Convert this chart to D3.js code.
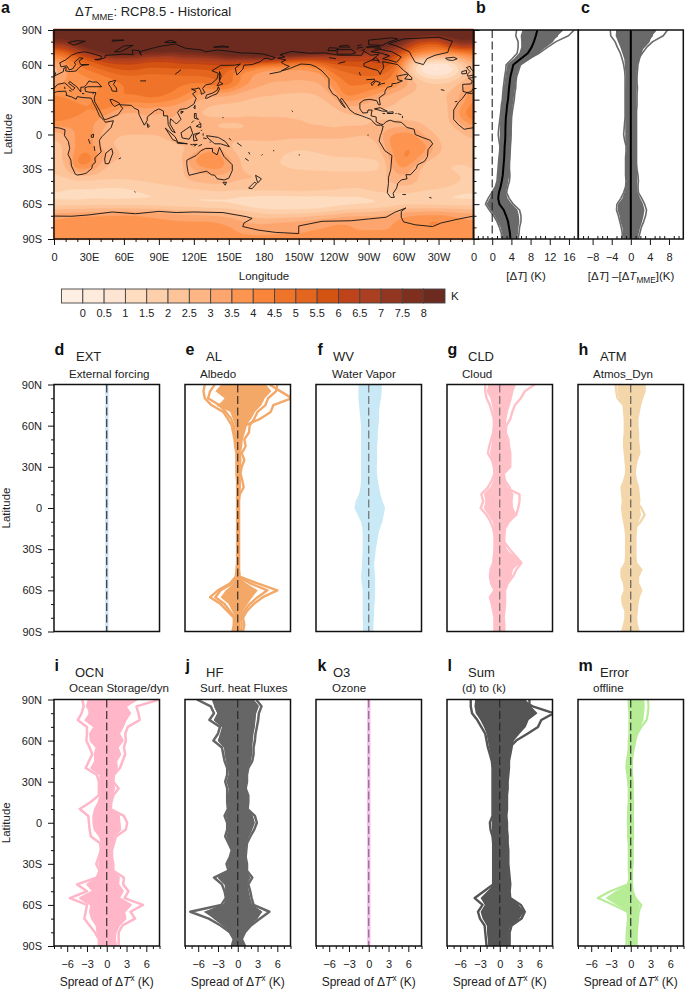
<!DOCTYPE html>
<html><head><meta charset="utf-8">
<script src="https://cdn.jsdelivr.net/npm/d3@7"></script>
<style>
html,body{margin:0;padding:0;background:#fff}
svg{display:block;font-family:"Liberation Sans",Arial,sans-serif;fill:#222}
text{fill:#222}
.tick line{stroke:#111;stroke-width:1}
.tick text{font-size:11px;fill:#222}
.domain{display:none}
</style></head><body>
<script>
// ---------- colour levels ----------
const levels=[0,.5,1,1.5,2,2.5,3,3.5,4,4.5,5,5.5,6,6.5,7,7.5,8];
const levelLabels=["0","0.5","1","1.5","2","2.5","3","3.5","4","4.5","5","5.5","6","6.5","7","7.5","8"];
const levelColors=["#ffefe3","#feebdc","#fee5d3","#fedcbf","#fdd0ab","#fdc49a","#fdb585","#fda56e","#fd9550","#f9853a","#ef742a","#e4651d","#d45212","#bf4318","#aa3f22","#92361f","#7f2f1e","#6d2b1f"];
// ---------- map: ΔT on a 10° lon x 5° lat grid, lon 0..350, lat 90..-90 ----------
const mapRows=[
[9.5,9.5,9.5,9.5,9.5,9.5,9.5,9.5,9.5,9.5,9.5,9.5,9.5,9.5,9.5,9.5,9.5,9.5,9.5,9.5,9.5,9.5,9.5,9.5,9.5,9.5,9.5,9.5,9.5,9.5,9.5,9.5,9.5,9.5,9.5,9.5],
[8.5,8.5,9,9.5,9.5,9.5,9.5,9.5,9.5,9.5,9.5,9.5,9.5,9.5,9.5,9.5,9.5,9.5,9.5,9.5,9.5,9.5,9.5,9.5,9.5,9.5,9.5,9.5,9.5,9.5,9,8.5,8,8,8.5,8.5],
[7.8,7.5,8.5,9,9.5,9.5,9.5,9.5,9.5,9.5,9.5,9.5,9.5,9.5,9.5,9.5,9.5,9.5,9.5,9.5,9.5,9.5,9.5,9.5,9.5,9.5,9.5,9.5,9.5,9,8,6,5.5,5.5,7,8],
[6,6.5,7.5,8.5,9,9.5,9.5,9.5,9,9,9,9,9,9.5,9.5,9.5,9.5,9.5,9.5,9.5,9.5,9.5,9.5,9.5,9.5,9.5,9,8.5,8,7.5,6.5,5.5,5,5,6,6.5],
[4.5,5,6,7,8,8.5,8.5,8.5,8,8,7.5,8,8,8,8.5,9,9,9,9,9,9,9,8.5,8,7.5,7,7,6.5,7,6.5,5.5,4.5,4,3.8,3.5,3.8],
[3.5,4.2,5,5.5,6,6.5,6.5,6.5,6,6,6,6.5,6.5,6.5,6.5,7,7,7.5,7.5,7.5,6.5,6,6,6,6.3,6.3,6.3,6,6.5,6,4,2.5,2,1.8,2,2.8],
[2.8,3.8,4.5,5,5.5,5.8,5.8,5.8,5.7,5.7,5.8,5.8,5.8,6,6,6,5.5,5,4.2,4,4,3.8,4,4.8,5.3,5.5,5.5,5.8,6,5.5,3.5,1.2,.5,.3,.7,1.8],
[2.6,3.3,4,4.4,4.8,5.3,5.6,5.6,5.3,5.3,5.3,5.3,5.3,5.3,5.5,4.5,4,3.6,3.3,3.3,3.3,3.3,3.4,3.6,4.8,5,5.2,5.3,5.3,4.8,3.2,1.3,.3,.1,.5,1.6],
[2.8,3.5,3.8,4,4.3,4.5,4.8,4.8,4.7,4.7,4.8,5,5,5,5.2,4.8,3.8,3.4,3.1,3.1,3.1,3,3.1,3.3,4.3,4.8,5,5,5,4.5,3.2,1.8,1.1,1.1,1.3,2],
[3.3,3.6,3.8,3.8,4,4.4,4.5,4.5,4.5,4.8,4.6,4.5,4.5,4.6,5,5,4.2,3.5,3.1,3,3,3,3,3,3.8,4.5,4.6,4.6,4.5,4.3,3.5,2.7,2.2,2,2.1,2.6],
[3.7,3.5,3.5,3.6,4,4.2,4.5,4.7,4.8,4.8,4.7,4.5,4.2,4,4.5,4.3,3.4,3,2.9,2.8,2.8,2.7,2.7,2.9,3.5,4.5,4.4,4.2,4,3.6,3,2.5,2.2,2.2,2.3,2.9],
[4,3.7,3.5,3.5,4.3,4.5,4.5,4.6,4.8,4.6,4.5,4.2,3.7,3.2,3.1,3,2.8,2.6,2.6,2.5,2.4,2.4,2.4,2.6,3.2,4.3,4.2,3.8,3.3,2.8,2.5,2.4,2.4,2.5,2.6,3.2],
[4.2,4.2,3.8,3.8,4.4,4.5,4.6,4.2,4.4,4.6,4.2,3.8,3.3,2.8,2.7,2.6,2.5,2.4,2.3,2.3,2.3,2.3,2.3,2.4,2.7,3.7,3.5,3.2,2.8,2.6,2.4,2.3,2.3,2.4,2.5,3],
[4.2,4.3,4.2,4,4.4,4.2,3.6,3.7,3.8,3.4,3.4,3.2,2.8,2.5,2.4,2.4,2.4,2.4,2.4,2.4,2.3,2.2,2.2,2.3,2.5,3,3,2.7,2.6,2.5,2.4,2.3,2.2,2.3,2.5,3.5],
[4.4,4.3,4.1,4,4,3.5,3,3,3.2,3.1,3.3,2.9,2.5,2.4,2.3,2.3,2.3,2.3,2.3,2.3,2.3,2.2,2.2,2.3,2.3,2.5,2.6,2.5,2.4,2.4,2.3,2.2,2.2,2.2,2.5,4],
[4.4,4.2,4,3.8,3.5,3,2.7,2.7,3,2.7,3.1,2.7,2.6,2.5,2.6,2.6,2.6,2.6,2.5,2.5,2.5,2.4,2.3,2.3,2.3,2.3,2.4,2.4,2.4,2.3,2.3,2.3,2.3,2.3,2.4,3.8],
[4.1,3.8,3.7,3.6,3.3,2.8,2.6,2.6,2.7,2.6,2.9,2.6,2.7,2.6,2.5,2.5,2.5,2.6,2.7,2.7,2.7,2.7,2.6,2.6,2.5,2.5,2.5,2.5,2.6,2.6,2.6,2.5,2.3,2.3,2.5,3],
[3,3.3,3.6,3.8,3,2.7,2.6,2.6,2.6,2.6,2.8,2.8,2.8,2.6,2.4,2.4,2.4,2.4,2.4,2.4,2.4,2.4,2.4,2.4,2.4,2.5,2.5,2.5,2.7,3,3.2,3,2.5,2.3,2.3,2.6],
[2.9,3,3.6,3.8,3,2.6,2.5,2.5,2.5,2.5,2.8,3,2.9,2.7,2.7,2.7,2.7,2.7,2.8,2.8,2.8,2.8,2.8,2.8,2.8,2.7,2.6,2.6,3,3.6,3.8,3.6,2.6,2.4,2.3,2.4],
[2.3,2.8,3.8,3.8,2.8,2.5,2.4,2.4,2.4,2.4,2.4,2.7,2.7,2.6,2.8,2.5,2.5,2.5,2.5,2.5,2.4,2.4,2.4,2.4,2.4,2.4,2.4,2.3,2.6,3.9,4,3.8,3.3,2.4,2.3,2.2],
[2.2,2.5,3.7,3.8,2.9,2.4,2.3,2.4,2.4,2.4,2.4,2.4,2.4,2.6,2.7,2.5,2.3,2.3,2.3,2.3,2.2,2.1,2.1,2.1,2.2,2.2,2.3,2.3,2.4,3.7,4,4,3.6,2.6,2.3,2.2],
[2.2,2.6,3.9,4,3.2,2.8,2.3,2.4,2.4,2.4,2.4,2.4,2.8,3.7,3.6,2.6,2.3,2.3,2.2,2.1,2,1.9,2,2.1,2.2,2.2,2.3,2.3,2.4,3.5,4,4,3.6,2.5,2.3,2.2],
[2.2,2.6,4.1,4.4,3.4,2.9,2.4,2.4,2.4,2.4,2.4,2.4,3.5,4,4,3,2.4,2.3,2.2,2.1,1.9,1.8,1.8,1.9,2,2,2,2.1,2.1,3.3,4.3,3.9,2.6,2.3,2.3,2.2],
[2.1,2.5,4.3,4.3,2.8,2.3,2.1,2.2,2.3,2.3,2.3,2.3,3.6,4,4.1,3.4,2.4,2.2,2.1,2,1.9,1.8,1.7,1.6,1.6,1.7,1.6,1.7,1.8,3.2,4,3.2,2.2,2,2,2],
[2,2.3,3.8,3.5,2.6,2.2,2.1,2.2,2.3,2.3,2.2,2.3,3,3.4,3.6,3.2,2.5,2.3,2.2,2.1,2,1.9,1.9,1.9,1.8,1.8,1.8,1.8,1.9,2.9,3.6,2.6,2.2,2.2,1.9,1.8],
[2,2.1,2.4,2.4,2.3,2.3,2.3,2.3,2.5,2.5,2.4,2.5,2.7,2.7,2.9,2.8,2.6,2.6,2.5,2.4,2.3,2.3,2.3,2.3,2.3,2.3,2.3,2.3,2.3,2.8,3,2.5,2.3,2.4,2.2,2],
[1.8,1.8,1.9,1.9,1.9,1.9,1.9,2,2,2.2,2.3,2.4,2.6,2.7,2.7,2.6,2.5,2.5,2.5,2.5,2.5,2.4,2.4,2.3,2.3,2.3,2.3,2.4,2.3,2.5,2.8,2.6,2.4,2.4,2.3,2],
[1.7,1.6,1.6,1.6,1.5,1.5,1.5,1.6,1.7,1.8,1.9,2,2.2,2.3,2.4,2.3,2.2,2.3,2.3,2.3,2.3,2.3,2.3,2.3,2.2,2.1,2.1,2.2,2.4,2.4,2.5,2.4,2.3,2.2,2,1.8],
[1.5,1.4,1.3,1.3,1.3,1.2,1.3,1.4,1.5,1.6,1.6,1.7,1.7,1.8,1.9,1.9,1.8,1.9,1.9,1.9,2,2,2,1.9,1.9,1.8,1.7,1.9,2,2.1,2.1,2,1.8,1.7,1.6,1.5],
[1.3,1.3,1.3,1.4,1.4,1.4,1.4,1.4,1.4,1.4,1.4,1.4,1.4,1.4,1.4,1.4,1.3,1.2,1.1,1.1,1.1,1.1,1.1,1.1,1.2,1.3,1.3,1.4,1.5,1.5,1.5,1.5,1.4,1.4,1.3,1.3],
[1.7,1.7,1.7,1.7,1.8,1.7,1.7,1.7,1.6,1.6,1.5,1.5,1.4,1.3,1.3,1.3,1.2,1,.9,.9,.9,.9,1,1,1.2,1.2,1.3,1.2,1.3,1.6,1.8,1.8,1.8,1.7,1.7,1.7],
[2.5,2.6,2.6,2.7,2.7,2.7,2.7,2.7,2.7,2.7,2.6,2.5,2.5,2.4,2.3,2.2,2,1.8,1.6,1.5,1.5,1.5,1.5,1.6,1.7,1.9,2,2.2,2.3,2.5,2.6,2.6,2.7,2.7,2.7,2.6],
[3.4,3.5,3.6,3.6,3.6,3.7,3.8,3.7,3.5,3.4,3.3,3.2,3.1,3,3,2.9,2.6,2.3,2.2,2.1,2.2,2.2,2.3,2.5,2.8,3.1,3.2,3.1,3.1,3.3,3.6,3.7,3.8,3.8,3.6,3.5],
[3.5,3.7,3.8,3.8,3.9,3.9,3.9,3.9,3.8,3.7,3.6,3.6,3.6,3.7,3.6,3.4,3.1,2.9,2.9,3,3.1,3.2,3.4,3.5,3.5,3.5,3.4,3.4,3.4,3.5,3.7,4,4.1,4.2,3.9,3.6],
[3.8,3.9,4,4.1,4.1,4.1,4,4,3.9,3.8,3.8,3.7,3.7,3.7,3.6,3.6,3.4,3.2,3.2,3.3,3.4,3.4,3.5,3.5,3.6,3.6,3.5,3.5,3.5,3.5,3.6,3.9,4,4,3.9,3.8],
[3.7,3.7,3.7,3.7,3.7,3.7,3.7,3.7,3.7,3.7,3.7,3.7,3.7,3.7,3.6,3.6,3.5,3.5,3.5,3.5,3.5,3.5,3.5,3.5,3.5,3.5,3.5,3.5,3.5,3.5,3.6,3.7,3.7,3.7,3.7,3.7],
[3.6,3.6,3.6,3.6,3.6,3.6,3.6,3.6,3.6,3.6,3.6,3.6,3.6,3.6,3.6,3.6,3.6,3.6,3.6,3.6,3.6,3.6,3.6,3.6,3.6,3.6,3.6,3.6,3.6,3.6,3.6,3.6,3.6,3.6,3.6,3.6]];
// ---------- coastlines, [lon,lat] ----------
const coastContinents=[
[[-6,35.8],[-2,35.1],[3,36.9],[10,37.2],[11,34],[10.2,33.7],[15,32.3],[19,30.3],[20,32.5],[25,31.7],[32,31.2],[32.5,29.9],[34,26.5],[36,23],[37.3,20],[39,16],[43,12],[44,10.5],[51,11.8],[49,6],[45,2],[41,-2],[39,-5],[39.5,-10],[40.5,-15],[35,-20],[35.5,-24],[33,-26],[32.5,-29],[28,-33],[25,-34],[20,-34.8],[18.3,-34],[15,-27],[14.5,-22],[12,-17],[13.5,-12],[12.3,-6],[9,-1],[9.5,4],[5,5.5],[1,6],[-4,5.2],[-8,4.5],[-13,8.5],[-17,13],[-17,21],[-13,27.5],[-9.5,31],[-6,35.8]],
[[-5.5,36],[-9,37],[-9.3,43],[-2,43.4],[-1,46],[-4.5,48.4],[-1.5,48.7],[2,51],[4,52],[8,54],[8.5,57],[10.5,57.5],[10,54.5],[14,54],[19,54.5],[21,57],[24,59.3],[30,60],[23,60],[21.5,63],[25,65.5],[22,65.8],[17.5,62],[18.5,60],[16,56.3],[13,55.5],[11,59],[6,58],[5,61.5],[10,64],[15,68],[20,70],[26,71],[31,70],[41,67],[40,64.8],[35,64.3],[38,64],[44,66],[44,68],[54,68.5],[60,69],[68,68.5],[67,72.5],[73,72],[75,68],[73,71],[80,72.8],[90,75.5],[104,77.7],[113,74],[127,72.5],[130,71],[140,72.5],[150,71.5],[160,70],[170,69.8],[180,69],[-175,67.5],[-170,66],[-173,64.3],[-178,65.5],[180,65],[177,62.5],[170,60],[163,59.5],[162,56],[157,51],[155.5,57],[160,60.5],[155,59.5],[143,59.3],[135.5,54.7],[141,52.5],[140,48],[135,43.5],[130,42.5],[127.5,39.5],[129.5,36],[126.5,34.5],[126,37.5],[124.5,40],[121,39],[118,39],[122,37],[119,35],[122,31],[120,26],[114,22.3],[108,21.5],[106,19],[109,13],[105,9],[103,11],[100,13.5],[99.5,9],[104,1.5],[101,3],[98,8.5],[97.5,16],[94,16],[94,20],[90,22],[86,20],[80,15],[80,12],[77.5,8],[73,17],[72.5,21],[69,22.5],[66.5,25],[57,25.5],[56,27],[50,30],[48,30],[50,26],[52,24],[56,26],[59,22.5],[55,17],[45,13],[43,13],[39,21],[35,28],[34.5,31.5],[36,36],[30,36.3],[27,37],[26.5,40],[29,41],[41,41],[37,45],[33,45],[30,46],[28,43],[26,40.8],[23,40.5],[23,36.5],[19.5,41],[13.5,45.5],[12.5,44],[18,40],[16,38],[12,42],[9,44.3],[3,43],[0,39.5],[-2,36.7],[-5.5,36]],
[[-168,65.5],[-162,66.5],[-166,68.5],[-156,71.3],[-141,69.7],[-128,70],[-115,68],[-108,68],[-96,68],[-94,71.5],[-88,68],[-81,69],[-87,64],[-94,61],[-94,58.7],[-88,56.5],[-82,55],[-80,51.5],[-79,54.5],[-77,57],[-78,62.5],[-70,61],[-65,60],[-60,55],[-56,52],[-66,50],[-65,49],[-65,47],[-61,46],[-66,44],[-70,43.5],[-70,41.5],[-74,40.5],[-76,37],[-76,35],[-81,31.5],[-80,25.5],[-81.5,25.5],[-83,29],[-89,30.2],[-94,29.5],[-97.5,27],[-97.5,22],[-95,18.5],[-91,18.7],[-90.5,21],[-87,21],[-88,16],[-83.5,15],[-83.5,11],[-80,9],[-77.5,8.5],[-75,11],[-71.5,12.3],[-68,11],[-62,10.5],[-57,6],[-51,4.5],[-50,0],[-44,-2.5],[-37,-5],[-35,-8],[-39,-13],[-39.5,-19],[-42,-23],[-48,-26],[-49,-29],[-54,-34.5],[-58,-34.5],[-57,-38],[-62,-39],[-65,-42],[-66,-46],[-69,-50.5],[-68,-54],[-71,-54],[-74,-50],[-73,-42],[-73,-37],[-71,-30],[-70,-18],[-76,-14],[-81,-5.5],[-80,-1],[-79,1.5],[-77.5,7],[-80,8],[-83,8],[-85.5,10],[-88,13],[-92,14.5],[-96,16],[-102,18],[-106,21],[-109,25.5],[-113,31],[-114.5,30],[-110,23],[-112.5,25],[-115,29],[-117,32.5],[-121,35],[-124,40],[-124,48],[-130,54.5],[-135,58],[-140,60],[-148,60.5],[-152,59],[-158,56.5],[-165,54.5],[-158,58.5],[-162,60],[-165,62],[-161,64],[-168,65.5]],
[[114,-22],[122,-18],[126,-14],[130,-12],[136,-12],[136,-15],[140,-17.5],[142,-11],[146,-19],[153,-26],[153,-31],[150,-37.5],[146,-39],[140,-38],[138,-35],[135,-34.5],[131,-31.5],[124,-33],[116,-35],[115,-32],[114,-26],[114,-22]],
[[0,-70],[30,-69],[50,-66.5],[70,-68],[90,-66],[120,-66.5],[145,-67],[165,-70.5],[170,-72],[163,-76],[162,-79],[175,-82],[-170,-84],[-150,-85],[-150,-78.5],[-130,-74.5],[-105,-74],[-90,-72.5],[-75,-71],[-68,-67],[-58,-63],[-62,-66],[-62,-71],[-60,-75],[-50,-77.5],[-35,-79],[-28,-76],[-15,-73],[-5,-71],[0,-70]],
[[-73,78],[-60,82],[-30,83.5],[-18,80],[-21,74],[-22,70.5],[-33,68],[-40,65],[-43,60],[-50,62],[-53,67],[-55,71],[-66,76],[-73,78]]];
const coastIslands=[
[[-80,73],[-70,71],[-62,66.5],[-66,62],[-73,64],[-78,65],[-72,67.5],[-80,70],[-88,71],[-80,73]],
[[-117,69],[-105,69],[-101,70],[-105,73],[-117,73],[-117,69]],[[-90,77],[-78,76.5],[-65,82],[-70,83],[-90,81],[-90,77]],
[[-125,72],[-118,72],[-116,74],[-124,74.5],[-125,72]],[[-92,75],[-80,75],[-82,76],[-92,75]],[[-115,75],[-106,75],[-108,76.5],[-115,76],[-115,75]],
[[-87,64],[-81,63.5],[-84,66],[-87,64]],[[-59,47.7],[-53,47],[-53,49],[-56,51.5],[-59,47.7]],[[-24,65.5],[-22,64],[-18,63.5],[-14,65],[-17,66.3],[-24,65.5]],
[[-5,50],[1,51.2],[1.5,52.8],[-2,56],[-3,58.5],[-6,57.5],[-3,54],[-5,52],[-5,50]],[[-10,52],[-6,52.3],[-6,55],[-10,54],[-10,52]],
[[12,79],[20,80.5],[27,80],[17,76.7],[12,79]],[[52,71],[57,71],[68,76.5],[60,76],[52,71]],[[95,79],[105,79],[100,81],[95,79]],[[137,75],[150,75],[145,76],[137,75]],[[50,80],[60,81],[50,81],[50,80]],
[[49.5,-12],[50.5,-16],[47,-25],[44,-25],[43.5,-21],[44.5,-16],[49.5,-12]],[[80,9.5],[82,7],[80.5,6],[80,9.5]],
[[95.5,5.5],[104,-2],[106,-6],[102,-4.5],[95.5,5.5]],[[105.5,-6.5],[114.5,-8],[106,-7.5],[105.5,-6.5]],[[109,1.5],[117,7],[119,1],[116,-4],[110,-3],[109,1.5]],
[[120,-5.5],[119.5,0],[125,1.5],[121,-1],[123,-5],[120,-5.5]],[[131,-1],[141,-2.5],[147,-6],[150.5,-10.5],[143,-8],[138,-8],[132,-3],[131,-1]],
[[120.5,18],[122,18],[122,15],[124,13],[120.5,14],[120.5,18]],[[122,7],[126,9.5],[126,6],[122,7]],[[121,25],[121,22],[120,23],[121,25]],[[109,20],[111,19.5],[109,18],[109,20]],
[[130,31],[131,34],[136,35.5],[140,38],[141,41],[142,39],[140,35],[136,33.5],[131,31],[130,31]],[[140,42],[142,45.5],[145,43.5],[141,42],[140,42]],[[142,46],[142,54],[143.5,50],[142,46]],
[[-85,22],[-80,23],[-74,20],[-78,20],[-85,22]],[[-74,19],[-69,19.5],[-69,18],[-74,18],[-74,19]],[[145,-41],[148,-41],[147,-43.5],[145,-41]],
[[173,-35],[178,-38],[175,-41.5],[174,-39],[173,-35]],[[172,-41],[174,-42],[170,-46.5],[167,-46],[172,-41]],
[[47,45],[53,46.5],[51,43],[53.5,40],[54,37],[50,37.3],[49,40],[47,43],[47,45]],[[32,-.5],[34,.3],[33.8,-2.5],[32,-2.3],[32,-.5]],
[[-92,47],[-85,47.5],[-85,46],[-88,44],[-87,42],[-84,46],[-80,44.5],[-82,42],[-79,43.5],[-76,44]]];
const coastSmall=[[[-156,20.5],[-155,19.5]],[[164,-20.5],[167,-22.5]],[[178,-18],[179,-17]],[[157,-7],[161,-10]],[[167,-15],[168,-17]],[[-61,-51.5],[-58,-51.5]],[[-38,-54],[-36,-54.5]],[[69,-49],[70,-49.5]],[[-175,52],[-165,54]],[[-91,-.5],[-90,-.5]],[[124,-10],[127,-8.5]],[[119,-8.5],[123,-8.5]],[[128,-3],[131,-3.5]],[[128,1],[128,-1]],[[104,51.7],[109,55.5]],[[74,46],[79,46]],[[29.5,-4],[31,-8]],[[34.5,-10],[35,-14]],[[-124,66],[-118,65]],[[-116,61],[-110,62.5]],[[-98,53.5],[-97,50.5]],[[9,41],[9.5,39]],[[13,38],[15,37]],[[24,35.2],[26,35]],[[33,35],[34,35.2]],[[-16,28],[-14,28.5]],[[-25,37.8],[-28,38.5]],[[-61,16],[-61,14]],[[-78,18],[-76,18]],[[-67,18],[-66,18]],[[55.5,-21],[57.5,-20]],[[-150,-17.5],[-149,-17.5]],[[-172,-13.8],[-171,-14]],[[145,14],[145,15]],[[-100,74],[-95,75]],[[-100,76],[-96,77]],[[-85,73.5],[-79,73.5]],[[-96,72],[-93,73]],[[-76,68],[-74,69]],[[-82,62.5],[-80,62]],[[117,-8.5],[119,-9]],[[122,-9],[120,-10]],[[134,-6],[134,-7]],[[150,-3],[152,-5]],[[126,3],[127,4]],[[118,10],[120,12]],[[125,11],[125,10]],[[-65,18],[-62,17]]];
// ---------- latitudes and zonal profiles ----------
const LAT=[90,85,80,75,70,65,60,55,50,45,40,35,30,25,20,15,10,5,0,-5,-10,-15,-20,-25,-30,-35,-40,-45,-50,-55,-60,-65,-70,-75,-80,-85,-90];
const mme=[9.4,9.1,8.7,8.2,7.4,5.9,4.4,4.1,3.8,3.65,3.5,3.4,3.3,3.1,3,2.85,2.8,2.75,2.75,2.7,2.6,2.55,2.5,2.4,2.3,2.2,2,1.75,1.4,1.25,1.5,2.4,2.9,3.3,3.5,3.7,3.8];
const devC=[
[-4.3,-4.2,-3.3,-2.8,-2.2,-1.8,-1.5,-1.3,-1.2,-1.2,-1.2,-1.2,-1.2,-1.2,-1.2,-1.2,-1.3,-1.4,-1.5,-1.3,-1,-1,-1.1,-1.1,-1.1,-1.1,-1,-1.1,-1.5,-2.1,-2.9,-3,-2.6,-2.3,-2,-1.8,-1.8],
[4,4.5,3.3,2.5,2.1,1.8,1.5,1.4,1.3,1.3,1.4,1.3,1.3,1.3,1.2,1.2,1.2,1.2,1.2,1.2,1.2,1.2,1.2,1.2,1.3,1.5,1.6,1.5,1.6,2.3,2.9,3.3,3.1,2.7,2.2,1.9,1.6],
[-2.9,-3,-2.5,-2,-1.6,-1.2,-1.1,-1,-.9,-.9,-1,-1,-1,-1,-1,-1,-1,-1,-1,-1,-.8,-.8,-.9,-.9,-.9,-.9,-.8,-.9,-1.2,-1.6,-2.5,-2.6,-2.2,-2,-1.6,-1.5,-1.4],
[2.8,3.2,2.6,2,1.7,1.4,1.2,1.1,1.1,1.1,1.1,1,1,1,1,1,1,1,1,1,1,1,1,1,1.1,1.2,1.2,1.2,1.3,1.8,2.4,2.7,2.5,2.2,1.8,1.5,1.3],
[-1.6,-2,-1.5,-1.2,-1,-.8,-.7,-.6,-.6,-.6,-.7,-.7,-.7,-.7,-.6,-.6,-.6,-.6,-.6,-.6,-.5,-.5,-.6,-.6,-.6,-.5,-.5,-.5,-.8,-1.1,-1.8,-1.9,-1.5,-1.4,-1.1,-1,-.9],
[7.7,6.8,4.6,3.3,2.4,1.6,1.2,1,.8,.7,.6,.6,.6,.5,.5,.5,.5,.5,.5,.5,.5,.5,.5,.5,.6,.7,.8,.7,.8,1,1.6,1.8,1.6,1.4,1.1,.9,.8],
[5.3,4.2,3.8,2.7,1.2,1,.9,.7,.7,.6,.7,.7,.6,.6,.6,.6,.6,.6,.6,.6,.6,.6,.6,.6,.7,.8,.9,.9,1,1.2,1.2,1.4,1.2,1.1,.9,.7,.7]];
const extLines=[[-.12,-.12,-.12,-.12,-.12,-.12,-.12,-.12,-.12,-.12,-.12,-.12,-.12,-.14,-.14,-.14,-.14,-.14,-.14,-.14,-.14,-.14,-.14,-.12,-.12,-.12,-.12,-.12,-.12,-.12,-.12,-.12,-.12,-.12,-.12,-.12,-.12],[.14,.14,.14,.14,.14,.14,.14,.14,.14,.14,.14,.14,.14,.14,.14,.14,.14,.14,.14,.14,.14,.14,.14,.14,.14,.14,.14,.14,.14,.14,.14,.14,.14,.14,.14,.14,.14]];
const alLines=[
[-5,-5.2,-5,-4,-2.2,-1.5,-.9,-.7,-.5,-.4,-.2,-.2,-.2,-.2,-.1,-.1,-.1,-.1,-.1,-.1,-.1,-.1,-.1,-.1,-.1,-.1,-.1,-.2,-.3,-1.2,-3,-4.2,-2.6,-1.6,-.6,-.6,-.8],
[6,5.8,4.6,4.2,3,2.5,1.8,1.7,1,1.2,.6,1,.6,.4,.7,.9,.3,.2,.2,.2,.2,.2,.2,.2,.2,.2,.2,.2,.3,3,6,3.8,2.4,1.4,.8,1,.8],
[-3.5,-4.2,-4.5,-2.8,-1.8,-1,-.6,-.5,-.3,-.3,-.1,-.1,-.1,-.1,0,0,0,0,0,0,0,0,0,0,0,0,0,-.1,-.2,-.8,-2.6,-3.4,-2,-1.2,-.4,-.4,-.5],
[3.8,4.4,3.6,3,2.2,1.6,1.2,.9,.6,.5,.3,.4,.3,.2,.3,.3,.2,.1,.1,.1,.1,.1,.1,.1,.1,.1,.1,.1,.2,1.9,4.5,3,1.8,1,.5,.6,.5],
[4.8,6.5,8.2,5.4,5,3.4,1,.7,.4,.2,.1,.1,.1,.1,.1,.1,.1,.1,.1,.1,.1,.1,.1,.1,.1,.1,.1,.1,.1,.8,1.6,1,.8,.4,.2,.2,.2],
[-1.5,-2.6,.5,-3,-.5,.5,-.2,.3,-.1,.1,0,.2,0,.1,0,0,0,0,0,0,0,0,0,0,0,0,0,0,0,-.4,1.2,-1.8,1.2,-.5,.2,.1,-.2],
[1.5,.5,2,1.2,.8,-.5,.5,-.2,.2,0,.1,0,.1,0,.1,.1,.1,.1,.05,.05,.05,.05,.05,.05,.05,.05,.05,.05,.05,.6,-1,1.4,-.8,.6,-.2,-.2,.2]];
const wvLines=[
[-1.4,-1.4,-1.4,-1.3,-1.2,-1.1,-1,-1,-1,-1,-1,-1,-1,-1,-1,-1.1,-1.3,-1.8,-2,-1.5,-1,-.8,-.75,-.75,-.75,-.8,-.85,-.9,-1,-.9,-.75,-.75,-.75,-.75,-.75,-.7,-.7],
[1.8,1.8,1.7,1.5,1.4,1.4,1.3,1.2,1.2,1.1,1.1,1.1,1.05,1.1,1.2,1.4,1.6,1.9,2.3,2.1,1.9,1.5,1.25,1.1,.9,.8,.65,.7,.8,.8,.8,.8,.7,.65,.6,.55,.55],
[-1.1,-1.2,-1.2,-1.1,-1,-.9,-.8,-.8,-.9,-.8,-.9,-.8,-.8,-.9,-.9,-.9,-1,-1.2,-1.5,-1.1,-.8,-.6,-.6,-.6,-.6,-.7,-.7,-.7,-.8,-.7,-.6,-.6,-.6,-.6,-.6,-.55,-.55],
[1.5,1.6,1.5,1.3,1.2,1.1,1.1,1,1,.9,.9,.9,.9,.9,1,1.2,1.3,1.6,1.9,1.8,1.6,1.2,1,.9,.8,.7,.5,.6,.7,.7,.7,.65,.6,.55,.5,.45,.45]];
const cldLines=[
[-2.2,-2.2,-2,-1.5,-1.2,-.9,-.9,-1,-1.3,-1.6,-1.8,-1.2,-.9,-.8,-1.2,-1.8,-2.8,-2.5,-2.9,-2,-1.4,-1,-.8,-.8,-.8,-.9,-1,-1.4,-1.5,-1.3,-.8,-1.5,-1.2,-1,-.8,-.8,-.8],
[1.5,1.5,1.4,1.3,1,.8,.8,.9,1.3,1.4,1.6,1.6,1.6,.6,.8,1.5,1.8,1.6,1.8,2.4,1.4,.8,.7,.7,1.5,2.4,3.3,2.5,2,1.2,.8,.8,.8,.7,.6,.7,.7],
[5.3,3.8,3.2,2.3,1.9,1.6,1,.9,.4,.3,.2,.4,.5,.3,.3,.8,3,3,2.8,2.5,.9,.3,.3,.3,.5,2,3,1.2,.6,.4,.2,.2,.2,.2,.2,.3,.3],
[-1.5,-1.8,-1.2,-1,-.8,-.7,-.6,-.8,-1,-1.1,-1.3,-.9,-.6,-.5,-.8,-1.2,-2.2,-2,-2.2,-1.5,-.9,-.7,-.6,-.6,-.6,-.7,-.8,-1.1,-1.2,-1,-.6,-1.2,-.9,-.7,-.6,-.6,-.6],
[1,1.2,1,.9,.7,.6,.6,.7,1,1.1,1.3,1.3,1.2,.4,.6,1,1.3,1.2,1.4,1.7,1,.6,.5,.5,.9,1.4,1.8,1.8,1.6,.9,.6,.6,.6,.5,.4,.5,.5],
[-.5,.4,-.7,.6,-.5,.3,-.3,.4,-.6,.6,-.8,.7,-.4,.2,-.6,.7,-1.4,.9,-1.6,1.2,-.5,.3,-.3,.3,-.4,.8,-.4,1,-.9,.5,-.3,-.7,.3,-.4,.2,-.3,.3]];
const atmLines=[
[-2.3,-2.2,-2,-1.1,-1,-.9,-.9,-.9,-1,-1,-.9,-.8,-.7,-.7,-1,-1.4,-1.3,-1.2,-1.3,-1.2,-1,-.8,-.7,-.7,-.7,-.7,-.8,-1.4,-1.4,-1,-.9,-1.3,-1.2,-.8,-.8,-1,-1.3],
[2.1,2.1,1.7,1.4,1.2,1,1,1.1,1.1,1.2,1.3,.9,.7,.6,.8,1.1,1.2,1.3,1.1,1,.9,.8,.7,.7,.7,.7,.8,1.6,1.1,1.1,1.6,1.2,1,.9,.8,.9,1.2],
[.8,1.2,.9,.6,.5,.5,.4,.4,.5,.6,.5,.4,.3,.3,.3,.5,.6,.8,1.6,2.1,1.5,.5,.3,.3,.3,.3,.3,.8,.6,.5,.8,.6,.5,.4,.3,.4,.5],
[-1.7,-1.8,-1.5,-.9,-.8,-.7,-.7,-.7,-.8,-.8,-.7,-.6,-.5,-.5,-.8,-1.1,-1,-1,-1,-.9,-.8,-.6,-.5,-.5,-.5,-.5,-.6,-1.1,-1.1,-.8,-.7,-1,-.9,-.6,-.6,-.8,-1],
[1.7,1.8,1.4,1.1,1,.8,.8,.9,.9,1,1,.7,.5,.4,.6,.9,1,1,.9,.8,.7,.6,.5,.5,.5,.5,.6,1.2,.9,.9,1.2,.9,.8,.7,.6,.7,.9]];
const ocnLines=[
[-3.7,-3.5,-3.8,-4.4,-3,-3,-3.1,-2.6,-2.2,-2.7,-3.2,-1.5,-1.2,-1.2,-1.2,-2.5,-4.1,-2.8,-2.7,-2.6,-2.4,-1,-.9,-1.2,-1.6,-1.1,-1.5,-4.5,-3,-5.6,-3,-3.2,-3.4,-2.6,-1.8,-1.2,-1.2],
[8,4.5,4.8,5,3.2,2.8,2.9,2.6,2.8,2.4,2,1.1,1,1.8,1,.7,.6,2.6,3.1,2.9,1.4,1.1,.8,.8,1,1,2.6,2.5,3.3,2.7,5.5,3.6,4.3,2.4,1.8,1.8,1.8],
[-2.7,-3,-2.2,-3.2,-1.8,-2.5,-2.4,-1.5,-1.8,-1.7,-2.3,-.9,-1,-.9,-.9,-1.2,-1.7,-2,-2,-1.8,-1,-.7,-.6,-.9,-1.1,-.8,-1.2,-2.9,-2,-4,-2.3,-2.5,-2.2,-1.5,-1.4,-.9,-.9],
[4.5,2.8,3.5,2.8,2.4,1.8,2.4,1.6,2,1.4,1.5,.8,.8,1.1,.7,.5,.5,1.8,1.9,2,1,.8,.6,.6,.7,.7,1.8,1.7,2.4,1.8,3.6,2.6,2.8,1.8,1.3,1.2,1.4],
[-1.5,1.5,-2.6,1.6,-1,1.2,-1.8,.9,-1.2,.8,-1.4,.4,-.6,.7,-.6,.2,-1,1.2,-1.4,1.2,-.5,.3,-.3,.2,-.8,.3,-.6,1.2,-1.5,1,-1.6,1.5,-1.6,1,-.7,.6,-.5],
[2,-1.8,1.8,-2,1.4,-1.2,1,-1,.9,-1,.7,-.4,.3,-.4,.3,-.6,.3,-1,.9,-.9,.5,-.3,.2,-.4,.2,-.4,.8,-1.8,1.5,-2,2.2,-1.5,1.6,-.9,.5,-.3,.6]];
const hfLines=[
[-6.2,-4.1,-3.6,-4.3,-2.7,-3,-3.7,-2.4,-2.2,-2,-1.6,-1.6,-1.9,-1.6,-1.6,-1.6,-1.5,-2,-1.6,-1.6,-1.9,-1.4,-.9,-1.2,-1.7,-1.4,-3.6,-2.4,-2,-1.8,-2.5,-7.2,-4.4,-2.6,-1.2,-.6,-.9],
[2.8,3.6,3.2,3.1,2.9,2.7,2.6,2.4,2.4,2.2,1.6,1.4,1.4,1.2,1.6,1.6,1.5,2.6,2.9,2.5,1.9,1.4,1.3,1.2,1.4,1.4,2.2,1.6,1.9,2.1,2.4,4.8,3.4,2,1.1,.6,1.1],
[-3.2,-3.4,-2.9,-3.4,-2.2,-2.5,-2.8,-1.9,-1.8,-1.6,-1.3,-1.2,-1.5,-1.2,-1.3,-1.3,-1.2,-1.6,-1.3,-1.3,-1.5,-1.1,-.7,-1,-1.3,-1.1,-2.8,-1.8,-1.7,-1.5,-2,-4.5,-3.4,-2,-.9,-.5,-.6],
[2.2,3,2.6,2.5,2.4,2.2,2.1,2,2,1.8,1.3,1.1,1.1,1,1.3,1.3,1.2,2.1,2.4,2,1.5,1.1,1,.9,1.1,1.1,1.7,1.3,1.5,1.7,2,3.4,2.8,1.6,.9,.5,.8],
[-1.5,1.5,-1.8,1.8,-1.4,1.2,-2,1.5,-1.2,1,-.8,.7,-1,.8,-.9,1,-.8,1.4,-.9,1.2,-1,.8,-.4,.6,-.9,.8,-1.5,1,-1,1.2,-1.5,2.5,-2.2,1,-.5,.3,-.4],
[1.2,-2,1.4,-1.8,1.2,-1.6,1,-1,1,-1,.7,-.7,.8,-.7,.9,-.9,.7,-1,1.4,-.9,.9,-.7,.5,-.5,.8,-.7,1.2,-1.4,.9,-.9,1.2,-3,1.8,-1.2,.4,-.3,.4]];
const o3Lines=[[-.13,-.13,-.13,-.13,-.13,-.13,-.13,-.13,-.13,-.13,-.13,-.13,-.13,-.13,-.16,-.16,-.16,-.16,-.16,-.13,-.13,-.13,-.13,-.13,-.13,-.13,-.13,-.13,-.13,-.13,-.13,-.13,-.13,-.13,-.13,-.13,-.13],[.13,.13,.13,.13,.13,.13,.13,.13,.13,.13,.13,.13,.13,.13,.13,.13,.13,.13,.13,.13,.13,.13,.13,.13,.13,.13,.13,.13,.13,.13,.13,.13,.13,.13,.13,.13,.13]];
const sumLines=[
[-4.4,-4.4,-4.2,-3.4,-2.8,-2.2,-2,-1.8,-1.5,-1.2,-1.1,-1.1,-1.1,-1.1,-1.1,-1.1,-1.1,-1.1,-1.5,-1.4,-1.1,-1,-1,-1,-1,-1,-1,-1,-2.4,-3.8,-2.6,-3.3,-3,-2.3,-2.2,-2.1,-2],
[4.5,4.5,3.8,2.9,2.5,2.1,1.9,1.8,1.6,1.4,1.4,1.3,1.2,1.2,1.1,1.1,1.1,1,1.1,1.1,1.2,1.2,1.3,1.3,1.3,1.4,1.5,1.6,1.5,1.6,3.2,3.8,3.3,1.8,1.5,1.5,1.5],
[3,5,8.2,6.3,5.8,4.2,2.5,1.5,1.2,1,.8,.7,.6,.6,.5,.5,.5,.5,.5,.5,.5,.5,.6,.6,.6,.7,.7,.7,.8,1,2.6,3.5,2.7,1.4,1,1,1],
[-3.2,-3.4,-3.2,-2.6,-2.1,-1.8,-1.6,-1.4,-1.2,-1,-.9,-.9,-.9,-.9,-.9,-.9,-.9,-.9,-1,-1,-.9,-.8,-.8,-.8,-.8,-.8,-.8,-.8,-1.5,-2.2,-2,-2.6,-2.3,-1.7,-1.7,-1.6,-1.5],
[3.5,3.2,2.8,2.2,1.9,1.6,1.5,1.4,1.3,1.2,1.1,1.1,1,1,.9,.9,.9,.8,.9,.9,1,1,1.1,1.1,1.1,1.2,1.2,1.3,1.2,1.3,2.4,2.8,2.4,1.4,1.2,1.2,1.2]];
const errLines=[
[-.3,-.3,-.2,-.2,-.2,-.2,-.3,-.3,-.4,-.6,-.65,-.5,-.4,-.3,-.3,-.3,-.4,-.4,-.45,-.4,-.4,-.3,-.3,-.3,-.3,-.3,-.2,-.4,-3.1,-5,-2.6,-.5,-.4,-.5,-.6,-.65,-.65],
[1.4,1.5,1.4,1.4,1.3,.9,.7,.5,.3,.2,.15,.2,.3,.3,.3,.35,.35,.3,.35,.35,.35,.3,.3,.3,.3,.2,.2,.2,.3,.7,1.6,1.2,1.1,1,.9,.9,.9],
[2.6,2.7,2.6,2.4,1.6,1,.6,.3,.1,0,0,0,0,0,0,0,0,0,0,0,0,0,0,0,0,0,0,0,-.2,-.2,.4,.2,.2,.2,.2,.2,.2],
[-.1,.1,.2,.2,.1,.1,0,-.1,-.2,-.3,-.4,-.3,-.2,-.1,-.1,-.1,-.2,-.2,-.2,-.2,-.2,-.1,-.1,-.1,-.1,-.1,-.1,-.2,-1.5,-2.6,-1.6,-.2,-.1,-.2,-.3,-.3,-.3],
[1.2,1.3,1.2,1.1,1,.7,.5,.3,.2,.1,.05,.1,.2,.2,.2,.2,.2,.2,.2,.2,.2,.2,.2,.2,.2,.1,.1,.1,.1,.4,1.1,.9,.8,.8,.7,.7,.7]];
// ---------- ticks ----------
const latTicks=[90,60,30,0,-30,-60,-90];
const latLabels=["90N","60N","30N","0","30S","60S","90S"];
const latMinor=[80,70,50,40,20,10,-10,-20,-40,-50,-70,-80];
const lonTicks=[0,30,60,90,120,150,180,210,240,270,300,330,360];
const lonLabels=["0","30E","60E","90E","120E","150E","180","150W","120W","90W","60W","30W","0"];
const lonMinor=d3.range(0,361,10).filter(d=>d%30);
const spreadTicks=[-6,-3,0,3,6];
const spreadLabels=["−6","−3","0","3","6"];
const bTicks=[0,4,8,12,16], cTicks=[-8,-4,0,4,8], cLabels=["−8","−4","0","4","8"];

// ---------- layout ----------
const svg=d3.select("body").append("svg").attr("width",685).attr("height",989);
const defs=svg.append("defs");
const map={x0:54,x1:473.5,y0:30,y1:239};
const colsX=[54,185,316,447,578], pw=105.5;
const row2={y0:384.5,y1:631.5}, row3={y0:699.5,y1:946};

function rich(x,y,parts,size,anchor){
  const t=svg.append("text").attr("x",x).attr("y",y).attr("font-size",size).attr("text-anchor",anchor||"start");
  let shift=0;
  parts.forEach(p=>{
    const s=t.append("tspan").text(p.t);
    if(p.i)s.attr("font-style","italic");
    let target=0;
    if(p.sub){target=size*.28;s.attr("font-size",size*.72);}
    if(p.sup){target=-size*.38;s.attr("font-size",size*.68);}
    if(target!==shift){s.attr("dy",target-shift);shift=target;}
  });
  return t;
}
function letter(x,y,s){svg.append("text").attr("x",x).attr("y",y).attr("font-size",16).attr("font-weight","bold").style("fill","#111").text(s);}
function axisAt(axis,x,y){const g=svg.append("g").attr("transform",`translate(${x},${y})`).call(axis);g.select(".domain").remove();return g;}
function frame(x0,y0,x1,y1,w){svg.append("rect").attr("x",x0).attr("y",y0).attr("width",x1-x0).attr("height",y1-y0).attr("fill","none").attr("stroke","#111").attr("stroke-width",w||1.5);}

// ---------- map ----------
const grid=mapRows.map(r=>r.concat([r[0]]));
const fx=10,fy=5,W=36*fx+1,H=36*fy+1,fine=new Float64Array(W*H);
for(let j=0;j<H;j++){for(let i=0;i<W;i++){
  const a=Math.min(Math.floor(i/fx),35),b=Math.min(Math.floor(j/fy),35),u=i/fx-a,v=j/fy-b;
  fine[j*W+i]=(1-v)*((1-u)*grid[b][a]+u*grid[b][a+1])+v*((1-u)*grid[b+1][a]+u*grid[b+1][a+1]);
}}
d3.blur2({data:fine,width:W,height:H},3);
const lonX=d3.scaleLinear().domain([0,360]).range([map.x0,map.x1]);
const latY=d3.scaleLinear().domain([90,-90]).range([map.y0,map.y1]);
const gridPath=d3.geoPath(d3.geoTransform({point(x,y){this.stream.point(lonX((x-.5)*360/(W-1)),latY(90-(y-.5)*180/(H-1)));}}));
const mapG=svg.append("g");
mapG.append("rect").attr("x",map.x0).attr("y",map.y0).attr("width",map.x1-map.x0).attr("height",map.y1-map.y0).attr("fill",levelColors[1]);
const contours=d3.contours().size([W,H]).thresholds(levels)(Array.from(fine));
mapG.selectAll("path").data(contours).join("path").attr("d",gridPath).attr("fill",(d,i)=>levelColors[i+1]).attr("stroke",(d,i)=>levelColors[i+1]).attr("stroke-width",.3);
const proj=d3.geoEquirectangular().rotate([-180,0]).scale((map.x1-map.x0)/(2*Math.PI)).translate([(map.x0+map.x1)/2,(map.y0+map.y1)/2]);
const coastPath=d3.geoPath(proj);
mapG.append("path").datum({type:"MultiLineString",coordinates:[...coastContinents,...coastIslands,...coastSmall]}).attr("d",coastPath).attr("fill","none").attr("stroke","#111").attr("stroke-width",.9);
frame(map.x0,map.y0,map.x1,map.y1);
axisAt(d3.axisLeft(latY).tickValues(latTicks).tickSize(6).tickPadding(6).tickFormat((d,i)=>latLabels[i]),map.x0,0);
axisAt(d3.axisLeft(latY).tickValues(latMinor).tickSize(3).tickFormat(""),map.x0,0);
axisAt(d3.axisBottom(lonX).tickValues(lonTicks).tickSize(6).tickPadding(8).tickFormat((d,i)=>lonLabels[i]),0,map.y1);
axisAt(d3.axisBottom(lonX).tickValues(lonMinor).tickSize(3).tickFormat(""),0,map.y1);
rich(75,16,[{t:"Δ"},{t:"T",i:1},{t:"MME",sub:1},{t:": RCP8.5 - Historical"}],13);
letter(1,13,"a");letter(476,13,"b");letter(581,13,"c");
svg.append("text").attr("transform","translate(12,134) rotate(-90)").attr("text-anchor","middle").attr("font-size",11.5).text("Latitude");
svg.append("text").attr("x",264).attr("y",280).attr("text-anchor","middle").attr("font-size",11.5).text("Longitude");

// ---------- colour bar ----------
const barX=d3.scaleLinear().domain([-.5,8.5]).range([61.5,445]);
svg.append("g").selectAll("rect").data(levelColors).join("rect")
 .attr("x",(d,i)=>barX(-.5+i*.5)).attr("y",289).attr("width",barX(0)-barX(-.5)).attr("height",14).attr("fill",d=>d).attr("stroke","#444").attr("stroke-width",.9);
svg.append("g").selectAll("text").data(levels).join("text").attr("x",d=>barX(d)).attr("y",317).attr("text-anchor","middle").attr("font-size",11).text((d,i)=>levelLabels[i]);
svg.append("text").attr("x",451).attr("y",300).attr("font-size",11.5).text("K");

// ---------- profile panels ----------
let clipN=0;
function drawProfile(o){
  const x=d3.scaleLinear().domain(o.domain).range([o.x0,o.x0+o.w]);
  const y=d3.scaleLinear().domain([90,-90]).range([o.y0,o.y1]);
  const id="clip"+(clipN++);
  defs.append("clipPath").attr("id",id).append("rect").attr("x",o.x0).attr("y",o.y0).attr("width",o.w).attr("height",o.y1-o.y0);
  const g=svg.append("g").attr("clip-path",`url(#${id})`);
  const q=LAT.map((lat,i)=>{const v=o.lines.map(l=>l[i]).sort(d3.ascending);return {lat,lo:d3.quantile(v,o.q),hi:d3.quantile(v,1-o.q)};});
  g.append("path").datum(q).attr("d",d3.area().y(d=>y(d.lat)).x0(d=>x(d.lo)).x1(d=>x(d.hi))).attr("fill",o.color);
  const line=d3.line().x(d=>x(d)).y((d,i)=>y(LAT[i]));
  g.selectAll("path.m").data(o.lines).join("path").attr("class","m").attr("d",line).attr("fill","none").attr("stroke",o.color).attr("stroke-width",o.sw).attr("stroke-linejoin","round");
  g.append("line").attr("x1",x(0)).attr("x2",x(0)).attr("y1",o.y0).attr("y2",o.y1).attr("stroke",o.dash).attr("stroke-width",1.1).attr("stroke-dasharray","8,3.5");
  if(o.mean)g.append("path").datum(o.mean).attr("d",line).attr("fill","none").attr("stroke","#000").attr("stroke-width",2);
  if(o.meanZero)g.append("line").attr("x1",x(0)).attr("x2",x(0)).attr("y1",o.y0).attr("y2",o.y1).attr("stroke","#000").attr("stroke-width",2);
  frame(o.x0,o.y0,o.x0+o.w,o.y1);
  return {x,y};
}
function withMme(s){return s.map((d,i)=>d+mme[i]);}
const pB=drawProfile({x0:473.5,w:104.8,y0:30,y1:239,domain:[-3.9,17.95],lines:devC.map(withMme),color:"#6a6a6a",sw:1.6,dash:"#222",mean:mme,q:.17});
const pC=drawProfile({x0:578.3,w:105,y0:30,y1:239,domain:[-11,11],lines:devC,color:"#6a6a6a",sw:1.6,dash:"#6a6a6a",meanZero:true,q:.17});
axisAt(d3.axisBottom(pB.x).tickValues(bTicks).tickSize(6).tickPadding(8),0,239);
axisAt(d3.axisBottom(pB.x).tickValues(d3.range(-3,18).filter(d=>d%4)).tickSize(-3).tickFormat(""),0,239);
axisAt(d3.axisBottom(pC.x).tickValues(cTicks).tickSize(6).tickPadding(8).tickFormat((d,i)=>cLabels[i]),0,239);
axisAt(d3.axisBottom(pC.x).tickValues(d3.range(-10,11).filter(d=>d%4)).tickSize(-3).tickFormat(""),0,239);
axisAt(d3.axisRight(pB.y).tickValues(latTicks).tickSize(6).tickFormat(""),473.5,0);
axisAt(d3.axisRight(pB.y).tickValues(latMinor).tickSize(3).tickFormat(""),473.5,0);
rich(526,280,[{t:"["},{t:"Δ"},{t:"T",i:1},{t:"] (K)"}],11.5,"middle");
rich(631,280,[{t:"["},{t:"Δ"},{t:"T",i:1},{t:"] –["},{t:"Δ"},{t:"T",i:1},{t:"MME",sub:1},{t:"](K)"}],11.5,"middle");

const panelDefs=[
 {col:0,row:2,l:"d",title:"EXT",sub:"External forcing",lines:extLines,color:"#cfe2f7",dash:"#222",sw:1.6,tdx:22,q:.25},
 {col:1,row:2,l:"e",title:"AL",sub:"Albedo",lines:alLines,color:"#f4a868",dash:"#222",sw:2.4,tdx:21,q:.25},
 {col:2,row:2,l:"f",title:"WV",sub:"Water Vapor",lines:wvLines,color:"#c9e9f6",dash:"#666",sw:2.2,tdx:17,q:.1},
 {col:3,row:2,l:"g",title:"CLD",sub:"Cloud",lines:cldLines,color:"#ffc0c8",dash:"#666",sw:2.4,tdx:21,q:.15},
 {col:4,row:2,l:"h",title:"ATM",sub:"Atmos_Dyn",lines:atmLines,color:"#f3d7ab",dash:"#555",sw:2.4,tdx:22,q:.12},
 {col:0,row:3,l:"i",title:"OCN",sub:"Ocean Storage/dyn",lines:ocnLines,color:"#ffb6c8",dash:"#222",sw:2.5,tdx:21,q:.18},
 {col:1,row:3,l:"j",title:"HF",sub:"Surf. heat Fluxes",lines:hfLines,color:"#666",dash:"#222",sw:2.5,tdx:21,q:.15},
 {col:2,row:3,l:"k",title:"O3",sub:"Ozone",lines:o3Lines,color:"#f6bdea",dash:"#8e5a85",sw:1.6,tdx:17,q:.25},
 {col:3,row:3,l:"l",title:"Sum",sub:"(d) to (k)",lines:sumLines,color:"#555",dash:"#222",sw:2.4,tdx:21,q:.14},
 {col:4,row:3,l:"m",title:"Error",sub:"offline",lines:errLines,color:"#b6ec95",dash:"#222",sw:2.2,tdx:22,q:.12}];
panelDefs.forEach(p=>{
  const R=p.row===2?row2:row3, x0=colsX[p.col];
  const s=drawProfile({x0,w:pw,y0:R.y0,y1:R.y1,domain:[-8,8],lines:p.lines,color:p.color,sw:p.sw,dash:p.dash,q:p.q});
  const lx=x0+(p.col===2?1:0)+0.5;
  letter(lx,p.row===2?355:671,p.l);
  svg.append("text").attr("x",x0+p.tdx).attr("y",p.row===2?361:677).attr("font-size",13).text(p.title);
  svg.append("text").attr("x",x0+15+(p.col===2?1:0)).attr("y",p.row===2?377.5:692).attr("font-size",11.6).text(p.sub);
  if(p.col===0){
    axisAt(d3.axisLeft(s.y).tickValues(latTicks).tickSize(6).tickPadding(6).tickFormat((d,i)=>latLabels[i]),x0,0);
    axisAt(d3.axisLeft(s.y).tickValues(latMinor).tickSize(3).tickFormat(""),x0,0);
    svg.append("text").attr("transform",`translate(10,${(R.y0+R.y1)/2}) rotate(-90)`).attr("text-anchor","middle").attr("font-size",11.5).text("Latitude");
  }
  if(p.row===3){
    axisAt(d3.axisBottom(s.x).tickValues(spreadTicks).tickSize(6).tickPadding(8).tickFormat((d,i)=>spreadLabels[i]),0,R.y1);
    axisAt(d3.axisBottom(s.x).tickValues(d3.range(-8,9).filter(d=>d%3)).tickSize(3).tickFormat(""),0,R.y1);
    rich(s.x(0),986,[{t:"Spread of "},{t:"Δ"},{t:"T",i:1},{t:"x",sup:1},{t:" (K)"}],12,"middle");
  }
});
</script>
</body></html>
